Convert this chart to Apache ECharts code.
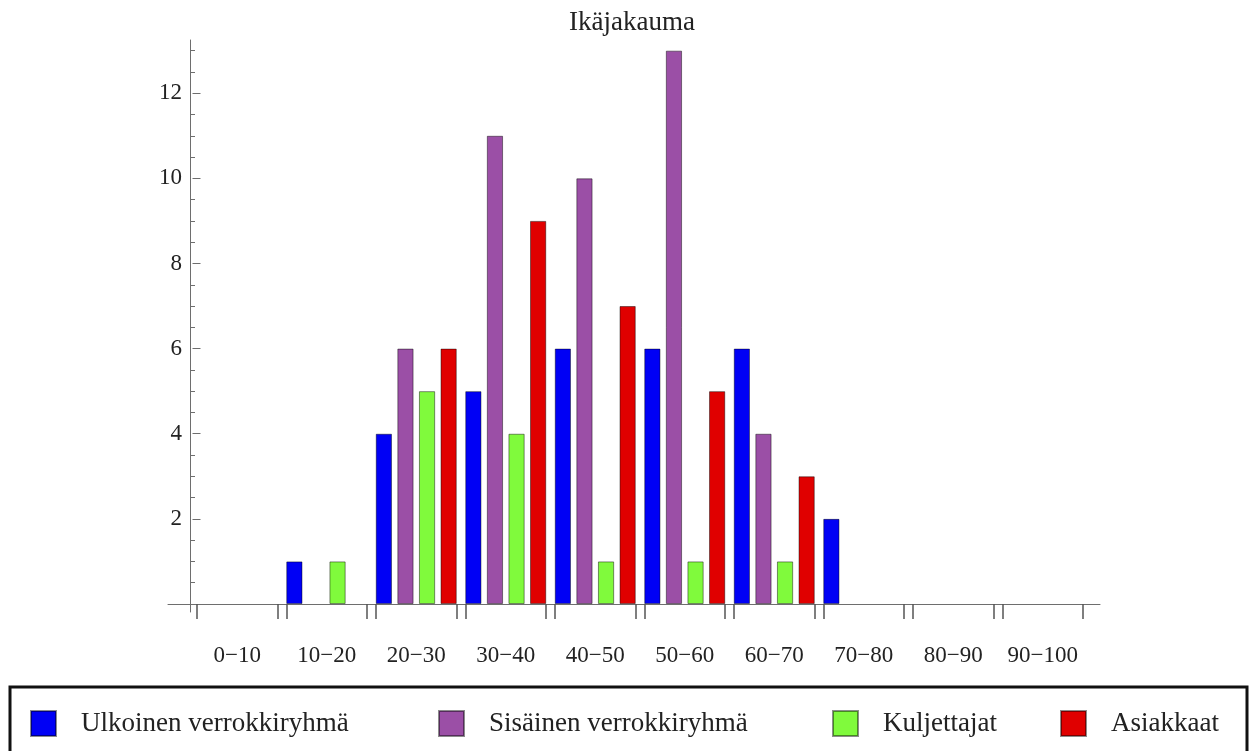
<!DOCTYPE html>
<html>
<head>
<meta charset="utf-8">
<script src="https://cdn.jsdelivr.net/npm/echarts@6/dist/echarts.min.js"></script>
<style>
  html, body { margin: 0; padding: 0; background: #ffffff; }
  #chart { width: 1253px; height: 751px; }
</style>
</head>
<body>
<div id="chart"></div>
<script>
// Age groups and counts per respondent group
const ageGroups = ['0−10', '10−20', '20−30', '30−40', '40−50', '50−60', '60−70', '70−80', '80−90', '90−100'];
const seriesNames = ['Ulkoinen verrokkiryhmä', 'Sisäinen verrokkiryhmä', 'Kuljettajat', 'Asiakkaat'];
const ulkoinen    = [0, 1, 4, 5, 6, 6, 6, 2, 0, 0];
const sisainen    = [0, 0, 6, 11, 10, 13, 4, 0, 0, 0];
const kuljettajat = [0, 1, 5, 4, 1, 1, 1, 0, 0, 0];
const asiakkaat   = [0, 0, 6, 9, 7, 5, 3, 0, 0, 0];

// Value axis ticks
const yMajorTicks = [2, 4, 6, 8, 10, 12];
const yMinorTicks = [0.5, 1, 1.5, 2.5, 3, 3.5, 4.5, 5, 5.5, 6.5, 7, 7.5, 8.5, 9, 9.5, 10.5, 11, 11.5, 12.5, 13];
const yMax = 13.25;

// Layout and style settings
const FONT = '"Liberation Serif", "Times New Roman", serif';
const TEXT = '#222222';
const AXIS = '#6e6e6e';
const colors = ['#0000f5', '#9b4fa6', '#80fa3c', '#e00000'];
const categoryGapFraction = 0.095;
const legendLeft = [30, 438, 832, 1060];

// Tick marks at the start and end of every bar group
const groupEdges = [];
ageGroups.forEach((_, k) => {
  groupEdges.push(k + categoryGapFraction / 2, k + 1 - categoryGapFraction / 2);
});

const values = [ulkoinen, sisainen, kuljettajat, asiakkaat];

const chart = echarts.init(document.getElementById('chart'), null, { renderer: 'canvas' });

chart.setOption({
  animation: false,
  backgroundColor: '#ffffff',
  title: {
    text: 'Ikäjakauma',
    left: 569,
    top: 9,
    padding: 0,
    textStyle: { fontFamily: FONT, fontSize: 27, fontWeight: 'normal', color: TEXT }
  },
  legend: seriesNames.map((name, i) => ({
    data: [name],
    left: legendLeft[i],
    top: 710,
    padding: 0,
    icon: 'rect',
    itemWidth: 25,
    itemHeight: 25,
    selectedMode: false,
    textStyle: { fontFamily: FONT, fontSize: 27, color: TEXT, padding: [0, 0, 0, 20] }
  })),
  graphic: [{
    type: 'rect',
    shape: { x: 10, y: 687, width: 1237, height: 80 },
    style: { fill: 'none', stroke: '#111111', lineWidth: 3 },
    silent: true
  }],
  grid: [
    { left: 192.5, width: 895, top: 40, height: 564 },   // bars
    { left: 168, width: 932, top: 40, height: 572 }      // axis lines crossing at the origin
  ],
  xAxis: [
    {
      type: 'category',
      gridIndex: 0,
      position: 'bottom',
      data: ageGroups,
      axisLine: { show: false },
      axisTick: { show: false },
      axisLabel: { interval: 0, margin: 40, fontFamily: FONT, fontSize: 23, color: TEXT }
    },
    {
      type: 'value',
      gridIndex: 0,
      position: 'bottom',
      min: 0,
      max: ageGroups.length,
      axisLine: { show: false, onZero: false },
      splitLine: { show: false },
      axisLabel: { show: false },
      axisTick: {
        show: true,
        inside: false,
        customValues: groupEdges,
        length: 15,
        lineStyle: { color: '#555555', width: 1.5 }
      }
    },
    {
      type: 'value',
      gridIndex: 1,
      min: -22,
      max: 910,
      axisLine: { show: true, onZero: true, lineStyle: { color: AXIS, width: 1 } },
      axisTick: { show: false },
      axisLabel: { show: false },
      splitLine: { show: false }
    }
  ],
  yAxis: [
    {
      type: 'value',
      gridIndex: 0,
      position: 'left',
      min: 0,
      max: yMax,
      offset: 2.5,
      axisLine: { show: false },
      splitLine: { show: false },
      axisTick: {
        show: true,
        inside: true,
        length: 8,
        customValues: yMajorTicks,
        lineStyle: { color: AXIS, width: 1 }
      },
      axisLabel: {
        customValues: yMajorTicks,
        margin: 8,
        fontFamily: FONT,
        fontSize: 23,
        color: TEXT
      }
    },
    {
      type: 'value',
      gridIndex: 0,
      position: 'left',
      min: 0,
      max: yMax,
      offset: 2.5,
      axisLine: { show: false, onZero: false },
      splitLine: { show: false },
      axisLabel: { show: false },
      axisTick: {
        show: true,
        inside: true,
        length: 5,
        customValues: yMinorTicks,
        lineStyle: { color: AXIS, width: 1 }
      }
    },
    {
      type: 'value',
      gridIndex: 1,
      min: -8,
      max: 564,
      axisLine: { show: true, onZero: true, lineStyle: { color: AXIS, width: 1 } },
      axisTick: { show: false },
      axisLabel: { show: false },
      splitLine: { show: false }
    }
  ],
  series: seriesNames.map((name, i) => ({
    name: name,
    type: 'bar',
    xAxisIndex: 0,
    yAxisIndex: 0,
    // empty age groups get no bar at all
    data: values[i].map(v => (v > 0 ? v : '-')),
    barGap: '33%',
    barCategoryGap: (categoryGapFraction * 100) + '%',
    itemStyle: {
      color: colors[i],
      borderColor: 'rgba(0,0,0,0.45)',
      borderWidth: 1
    }
  }))
});
</script>
</body>
</html>
